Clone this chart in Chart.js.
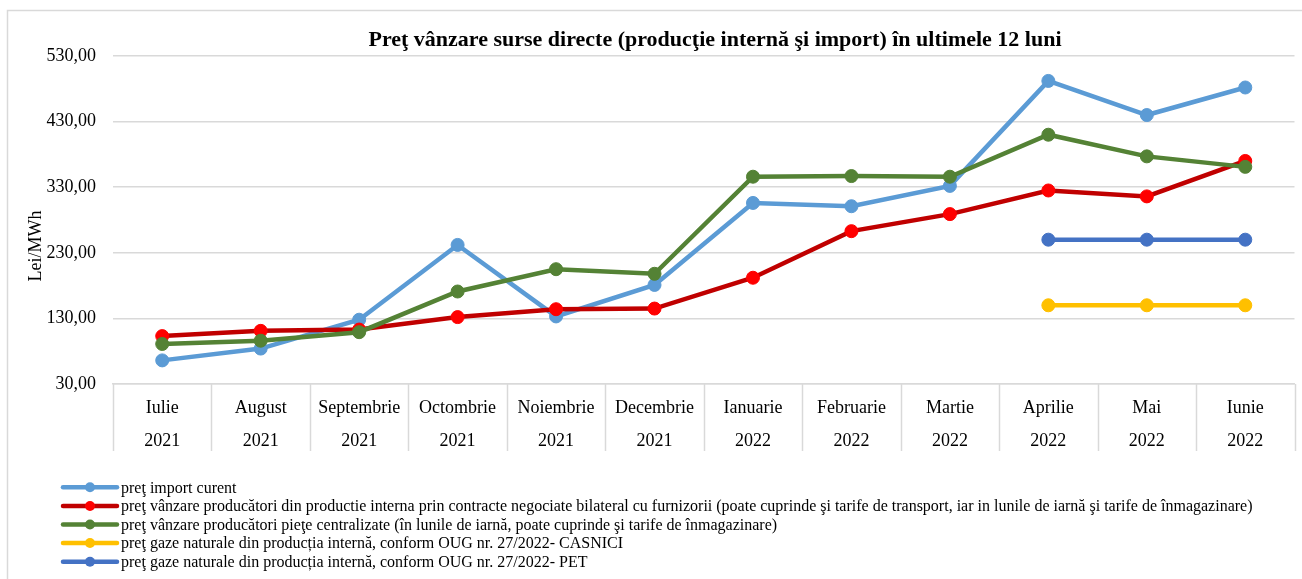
<!DOCTYPE html>
<html>
<head>
<meta charset="utf-8">
<script src="https://cdn.jsdelivr.net/npm/chart.js@4.4.1/dist/chart.umd.min.js"></script>
<style>
html,body{margin:0;padding:0;background:#fff;}
#wrap{width:1302px;height:579px;position:relative;}
canvas{display:block;}
</style>
</head>
<body>
<div id="wrap"><canvas id="c" width="1302" height="579"></canvas></div>
<script>
const chartTitle = 'Preţ vânzare surse directe (producţie internă şi import) în ultimele 12 luni';
const yAxisTitle = 'Lei/MWh';
const months = ['Iulie','August','Septembrie','Octombrie','Noiembrie','Decembrie','Ianuarie','Februarie','Martie','Aprilie','Mai','Iunie'];
const years = ['2021','2021','2021','2021','2021','2021','2022','2022','2022','2022','2022','2022'];
const yTicks = [30, 130, 230, 330, 430, 530];

const importCurent = [66, 84, 128, 242, 133, 181, 306, 301, 332, 492, 440, 482];
const productieInterna = [103, 111, 113, 132, 144, 145, 192, 263, 289, 325, 316, 370];
const pieteCentralizate = [91, 96, 109, 171, 205, 198, 346, 347, 346, 410, 377, 361];
const casnici = [null, null, null, null, null, null, null, null, null, 150, 150, 150];
const pet = [null, null, null, null, null, null, null, null, null, 250, 250, 250];

const seriesNames = [
  'preţ import curent',
  'preţ vânzare producători din productie interna prin contracte negociate bilateral cu furnizorii (poate cuprinde şi tarife de transport, iar in lunile de iarnă şi tarife de înmagazinare)',
  'preţ vânzare producători pieţe centralizate (în lunile de iarnă, poate cuprinde şi tarife de înmagazinare)',
  'preţ gaze naturale din producția internă, conform OUG nr. 27/2022- CASNICI',
  'preţ gaze naturale din producția internă, conform OUG nr. 27/2022- PET'
];
const seriesData = [importCurent, productieInterna, pieteCentralizate, casnici, pet];
const lineColors = ['#5B9BD5', '#C00000', '#548235', '#FFC000', '#4472C4'];
const pointColors = ['#5B9BD5', '#FF0000', '#548235', '#FFC000', '#4472C4'];

const FONT = '"Liberation Serif", "Times New Roman", serif';
const GRID = '#d9d9d9';

const datasets = seriesData.map((d, i) => ({
  label: seriesNames[i],
  data: d,
  borderColor: lineColors[i],
  backgroundColor: pointColors[i],
  pointBackgroundColor: pointColors[i],
  pointBorderColor: pointColors[i],
  pointBorderWidth: 1,
  borderWidth: 4.5,
  pointRadius: 6.5,
  pointHoverRadius: 6.5,
  tension: 0,
  spanGaps: false,
  order: seriesData.length - i
}));

const decorPlugin = {
  id: 'decor',
  beforeDraw(chart) {
    const ctx = chart.ctx;
    ctx.save();
    ctx.fillStyle = '#fff';
    ctx.fillRect(0, 0, chart.width, chart.height);
    ctx.strokeStyle = GRID;
    ctx.lineWidth = 1.5;
    ctx.strokeRect(7.5, 10.5, 1400, 700);
    ctx.restore();
  },
  afterDraw(chart) {
    const ctx = chart.ctx;
    const xs = chart.scales.x;
    const ca = chart.chartArea;
    ctx.save();
    const n = months.length;
    const w = (xs.right - xs.left) / n;
    ctx.strokeStyle = GRID;
    ctx.lineWidth = 1.5;
    for (let i = 0; i <= n; i++) {
      const x = Math.round(xs.left + i * w) + 0.5;
      ctx.beginPath();
      ctx.moveTo(x, ca.bottom);
      ctx.lineTo(x, ca.bottom + 67);
      ctx.stroke();
    }
    // title
    ctx.fillStyle = '#000';
    ctx.font = 'bold 22px ' + FONT;
    ctx.textAlign = 'center';
    ctx.textBaseline = 'alphabetic';
    ctx.fillText(chartTitle, 715, 46);
    // y axis title
    ctx.save();
    ctx.translate(40, 246);
    ctx.rotate(-Math.PI / 2);
    ctx.font = '18px ' + FONT;
    ctx.textAlign = 'center';
    ctx.textBaseline = 'middle';
    ctx.fillText(yAxisTitle, 0, -4);
    ctx.restore();
    // legend
    const rowY = [487.3, 506, 524.5, 543, 561.7];
    ctx.font = '16px ' + FONT;
    ctx.textAlign = 'left';
    ctx.textBaseline = 'middle';
    chart.data.datasets.forEach((ds, i) => {
      const y = rowY[i];
      ctx.strokeStyle = lineColors[i];
      ctx.lineWidth = 4.5;
      ctx.lineCap = 'round';
      ctx.beginPath();
      ctx.moveTo(63, y);
      ctx.lineTo(117, y);
      ctx.stroke();
      ctx.fillStyle = pointColors[i];
      ctx.beginPath();
      ctx.arc(90, y, 5, 0, Math.PI * 2);
      ctx.fill();
      ctx.fillStyle = '#000';
      ctx.fillText(ds.label, 121, y + 1);
    });
    ctx.restore();
  }
};

new Chart(document.getElementById('c'), {
  type: 'line',
  data: {
    labels: months.map((m, i) => [m, years[i]]),
    datasets: datasets
  },
  options: {
    responsive: false,
    animation: false,
    devicePixelRatio: 1,
    layout: { padding: { top: 56, left: 0, right: 7, bottom: 128 } },
    plugins: {
      legend: { display: false },
      title: { display: false },
      tooltip: { enabled: false }
    },
    scales: {
      x: {
        offset: true,
        grid: { display: false, drawOnChartArea: false, drawTicks: false },
        border: { display: true, color: GRID, width: 1.5 },
        ticks: {
          color: '#000',
          font: { family: FONT, size: 18, lineHeight: 1.83 },
          padding: 8,
          maxRotation: 0,
          autoSkip: false
        },
        afterFit(scale) { scale.height = 67; }
      },
      y: {
        min: 30,
        max: 530,
        afterBuildTicks(scale) { scale.ticks = yTicks.map(v => ({ value: v })); },
        grid: { color: GRID, lineWidth: 1.5, drawTicks: false },
        border: { display: false },
        ticks: {
          color: '#000',
          font: { family: FONT, size: 18 },
          padding: 17,
          callback: v => Number(v).toFixed(2).replace('.', ',')
        },
        afterFit(scale) { scale.width = 113; }
      }
    }
  },
  plugins: [decorPlugin]
});
</script>
</body>
</html>
